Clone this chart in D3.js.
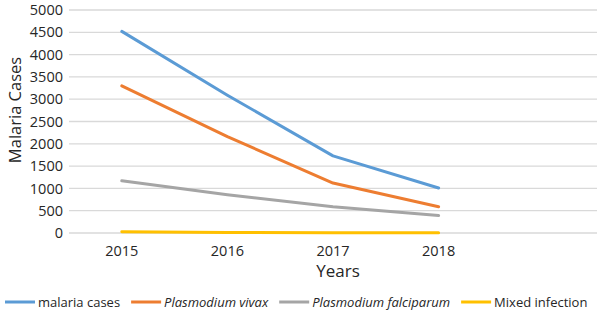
<!DOCTYPE html>
<html>
<head>
<meta charset="utf-8">
<script src="https://cdn.jsdelivr.net/npm/d3@7"></script>
<style>
  body { margin: 0; background: #fff; }
  text { font-family: "Open Sans", sans-serif; fill: #262626; }
  .grid line { stroke: #d9d9d9; stroke-width: 1.3; }
</style>
</head>
<body>
<div id="chart"></div>
<script>
const width = 598, height = 310,
    margin = ({ top: 10, right: 1, bottom: 77, left: 69 });

// data
const years = ["2015", "2016", "2017", "2018", ""];
const seriesNames = ["malaria cases", "Plasmodium vivax", "Plasmodium falciparum", "Mixed infection"];
const malariaCases = [4520, 3090, 1730, 1010];
const vivax = [3300, 2160, 1120, 590];
const falciparum = [1170, 860, 590, 390];
const mixed = [30, 10, 5, 5];
const yTicks = [0, 500, 1000, 1500, 2000, 2500, 3000, 3500, 4000, 4500, 5000];
const colors = ["#5b9bd5", "#ed7d31", "#a5a5a5", "#ffc000"];
const italic = [false, true, true, false];

const series = [malariaCases, vivax, falciparum, mixed];

const svg = d3.select("#chart")
    .append("svg")
    .attr("width", width)
    .attr("height", height);

let x = d3.scaleBand()
    .domain(years)
    .range([margin.left, width - margin.right]);

let y = d3.scaleLinear()
    .domain([0, 5000])
    .range([height - margin.bottom, margin.top]);

// gridlines
svg.append("g")
    .attr("class", "grid")
    .selectAll("line")
    .data(yTicks)
    .join("line")
    .attr("x1", margin.left)
    .attr("x2", width - margin.right)
    .attr("y1", d => y(d))
    .attr("y2", d => y(d));

// y axis labels
svg.append("g")
    .attr("transform", `translate(${margin.left - 6},0)`)
    .call(d3.axisLeft(y).tickValues(yTicks).tickFormat(d3.format("d")).tickSize(0).tickPadding(0))
    .call(g => g.select(".domain").remove())
    .selectAll("text")
    .style("font-size", "14.5px")
    .style("font-family", "Open Sans, sans-serif")
    .attr("fill", "#262626");

// x axis labels
svg.append("g")
    .attr("transform", `translate(0,${height - margin.bottom})`)
    .call(d3.axisBottom(x).tickSize(0).tickPadding(13))
    .call(g => g.select(".domain").remove())
    .selectAll("text")
    .style("font-size", "14.5px")
    .style("font-family", "Open Sans, sans-serif")
    .attr("fill", "#262626");

const line = d3.line()
    .x((d, i) => x(years[i]) + x.bandwidth() / 2)
    .y(d => y(d));

svg.append("g")
    .selectAll("path")
    .data(series)
    .join("path")
    .attr("d", d => line(d))
    .attr("fill", "none")
    .attr("stroke", (d, i) => colors[i])
    .attr("stroke-width", 3)
    .attr("stroke-linejoin", "round")
    .attr("stroke-linecap", "round");

// axis titles
svg.append("text")
    .attr("x", 338)
    .attr("y", 277)
    .attr("text-anchor", "middle")
    .style("font-size", "17px")
    .text("Years");

svg.append("text")
    .attr("transform", "translate(21,110) rotate(-90)")
    .attr("text-anchor", "middle")
    .style("font-size", "16.5px")
    .text("Malaria Cases");

// legend
const legend = svg.append("g")
    .attr("class", "legend")
    .attr("transform", "translate(5,302)");

let lx = 0;
seriesNames.forEach((name, i) => {
  const item = legend.append("g").attr("transform", `translate(${lx},0)`);
  item.append("line")
      .attr("x1", 0).attr("x2", 30)
      .attr("stroke", colors[i])
      .attr("stroke-width", 3);
  const t = item.append("text")
      .attr("x", 33)
      .attr("dy", "0.35em")
      .style("font-size", "13px")
      .style("font-style", italic[i] ? "italic" : "normal")
      .text(name);
  lx += 33 + t.node().getComputedTextLength() + 11;
});
</script>
</body>
</html>
